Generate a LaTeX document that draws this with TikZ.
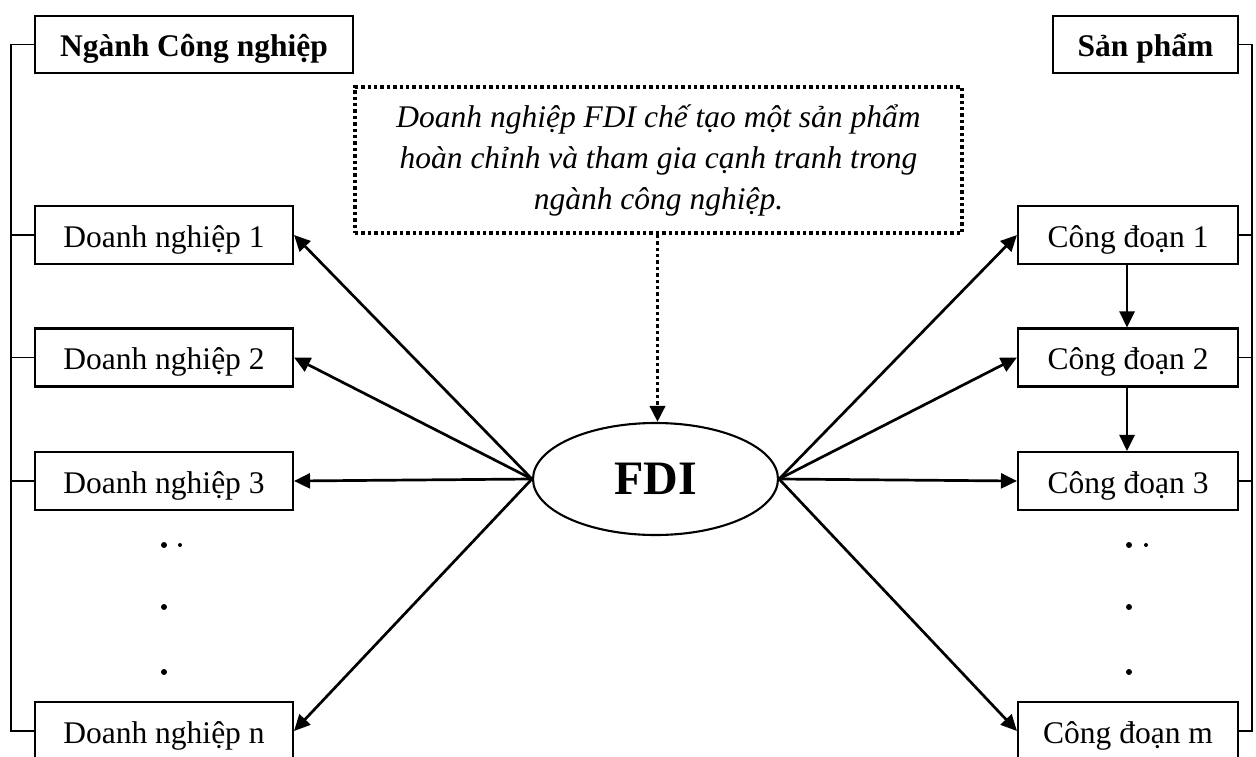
\documentclass[tikz,border=0pt]{standalone}
\usepackage{fontspec}
\setmainfont{Liberation Serif}
\usetikzlibrary{arrows.meta,shapes.geometric}
\begin{document}
\begin{tikzpicture}[x=1pt,y=-1pt,
  box/.style={draw,line width=2.1pt,minimum height=58pt,inner sep=0pt,
    font=\fontsize{31.5}{41}\selectfont,text height=24pt,text depth=0pt},
  headbox/.style={box,minimum height=57pt,font=\fontsize{31.5}{41}\selectfont\bfseries},
  lbox/.style={box,minimum width=258pt},
  rbox/.style={box,minimum width=220pt},
  tie/.style={line width=1.9pt},
  link/.style={line width=2.7pt,-{Triangle[length=16pt,width=15pt]}},
  dots/.style={line width=3.6pt,dash pattern=on 3.4pt off 3pt},
  note/.style={draw,dots,minimum width=607pt,minimum height=146pt,inner sep=0pt,
    align=center,font=\fontsize{31.5}{41}\selectfont\itshape},
  hub/.style={draw,ellipse,line width=2.1pt,minimum width=245pt,minimum height=112pt,
    inner sep=0pt,font=\fontsize{48}{50}\selectfont\bfseries,text height=31pt,text depth=0pt}
]
\useasboundingbox (0,0) rectangle (1256,756);

% headings
\node[headbox,minimum width=318pt] (ind) at (194,44.5) {Ngành Công nghiệp};
\node[headbox,minimum width=185pt] (sp) at (1145.5,44.5) {Sản phẩm};

% note box and the central ellipse
\node[note] (nt) at (658.5,160) {Doanh nghiệp FDI chế tạo một sản phẩm\\hoàn chỉnh và tham gia cạnh tranh trong\\ngành công nghiệp.};
\node[hub] (fdi) at (655.5,479) {FDI};

% firms of the industry
\node[lbox] (dn1) at (164,235) {Doanh nghiệp 1};
\node[lbox] (dn2) at (164,357.5) {Doanh nghiệp 2};
\node[lbox] (dn3) at (164,481) {Doanh nghiệp 3};
\node[lbox] (dnN) at (164,731) {Doanh nghiệp n};

% production stages
\node[rbox] (cd1) at (1128,235) {Công đoạn 1};
\node[rbox] (cd2) at (1128,357.5) {Công đoạn 2};
\node[rbox] (cd3) at (1128,481) {Công đoạn 3};
\node[rbox] (cdM) at (1128,731) {Công đoạn m};

% left bracket
\draw[tie] (ind.west) -- ++(-23,0) |- (dnN.west);
\foreach \n in {dn1,dn2,dn3} \draw[tie] (\n.west) -- ++(-23,0);

% right bracket
\draw[tie] (sp.east) -- ++(13,0) |- (cdM.east);
\foreach \n in {cd1,cd2,cd3} \draw[tie] (\n.east) -- ++(13,0);

% dotted link from the note to FDI
\draw[dots,-{Triangle[length=16pt,width=15pt]}] (nt.south -| fdi.north) ++(2,0) coordinate (ns) -- (ns |- fdi.north);

% FDI to firms and stages
\foreach \n in {dn1,dn2,dn3,dnN} \draw[link] (fdi.west) -- (\n.east);
\foreach \n in {cd1,cd2,cd3,cdM} \draw[link] (fdi.east) -- (\n.west);

% stage sequence
\draw[link] (cd1.south -| 1127,0) -- (cd2.north -| 1127,0);
\draw[link] (cd2.south -| 1127,0) -- (cd3.north -| 1127,0);

% ellipsis dots
\foreach \p in {(164,545),(164,607),(164,672),(1129,545),(1129,607),(1129,672)}
  \fill \p circle (3);
\fill (180,545) circle (2);
\fill (1146,545) circle (2);
\end{tikzpicture}
\end{document}
